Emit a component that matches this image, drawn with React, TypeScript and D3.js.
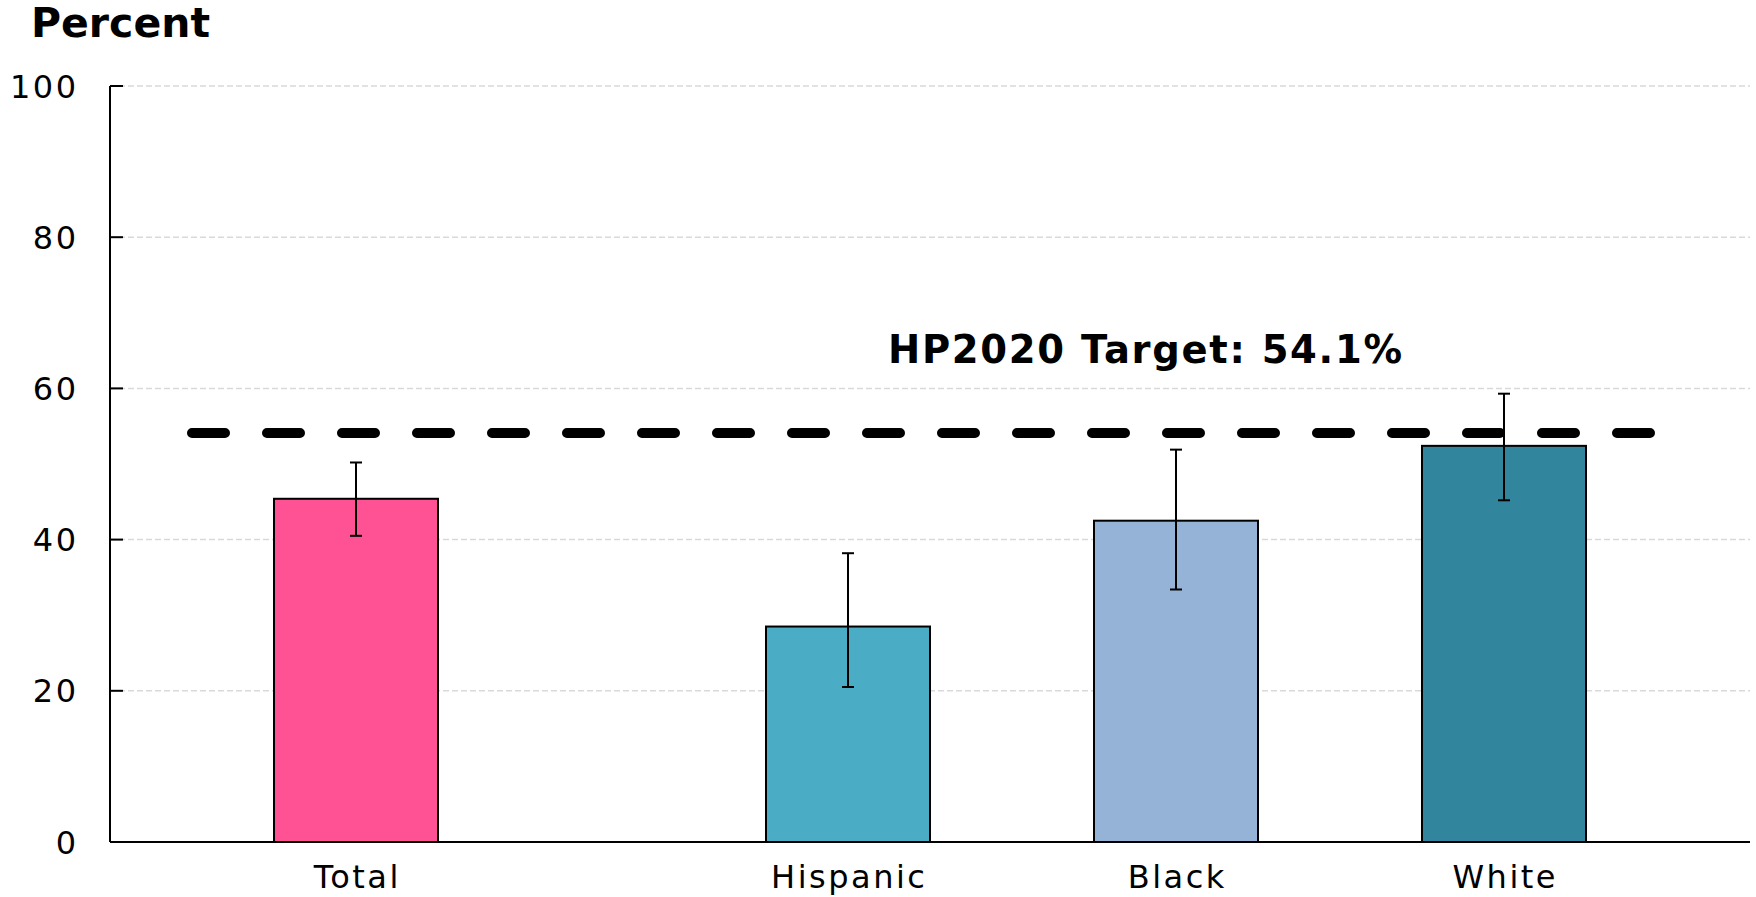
import React from "react";
import * as d3 from "d3";

const categories = ["Total", "Hispanic", "Black", "White"];
const values = [45.4, 28.5, 42.5, 52.4];
const errLow = [40.5, 20.5, 33.4, 45.2];
const errHigh = [50.2, 38.2, 51.9, 59.3];
const colors = ["#FF5294", "#4BACC6", "#95B3D7", "#31859C"];
const yTicks = [0, 20, 40, 60, 80, 100];
const target = 54.1;
const targetLabel = "HP2020 Target: 54.1%";
const yTitle = "Percent";

const W = 1756;
const H = 897;
const left = 110;
const right = 1750;
const top = 86;
const bottom = 842;
const groupGap = 0.5;

export default function App() {
  const slots = categories.map((_, i) => i + (i > 0 ? groupGap : 0));
  const lastSlot = slots[slots.length - 1];
  const x = d3.scaleLinear().domain([-0.75, lastSlot + 0.75]).range([left, right]);
  const y = d3.scaleLinear().domain([0, 100]).range([bottom, top]);
  const unit = x(1) - x(0);
  const barW = unit * 0.5;
  const capW = 6;
  const font = "'DejaVu Sans', Verdana, sans-serif";
  const ls = 2.5;

  return (
    <svg
      width={W}
      height={H}
      style={{ position: "absolute", left: 0, top: 0, display: "block", background: "#fff" }}
      fontFamily={font}
    >
      {/* gridlines */}
      {yTicks.filter((t) => t > 0).map((t) => (
        <line
          key={"g" + t}
          x1={left}
          x2={right}
          y1={y(t)}
          y2={y(t)}
          stroke="#d9d9d9"
          strokeWidth={1.5}
          strokeDasharray="6,3"
        />
      ))}
      {/* y ticks and labels */}
      {yTicks.map((t) => (
        <g key={"t" + t}>
          <line x1={left} x2={left + 13} y1={y(t)} y2={y(t)} stroke="#000" strokeWidth={2} />
          <text
            x={76 + ls}
            y={y(t)}
            dy="0.36em"
            textAnchor="end"
            fontSize={32}
            letterSpacing={ls}
            fill="#000"
          >
            {t}
          </text>
        </g>
      ))}
      {/* bars */}
      {categories.map((c, i) => (
        <rect
          key={"b" + c}
          x={x(slots[i]) - barW / 2}
          y={y(values[i])}
          width={barW}
          height={y(0) - y(values[i])}
          fill={colors[i]}
          stroke="#000"
          strokeWidth={2}
        />
      ))}
      {/* target line */}
      <line
        x1={x(-0.5)}
        x2={x(lastSlot + 0.5)}
        y1={y(target)}
        y2={y(target)}
        stroke="#000"
        strokeWidth={10}
        strokeLinecap="round"
        strokeDasharray="33,42"
      />
      {/* error bars */}
      {categories.map((c, i) => {
        const cx = x(slots[i]);
        return (
          <g key={"e" + c} stroke="#000" strokeWidth={2}>
            <line x1={cx} x2={cx} y1={y(errLow[i])} y2={y(errHigh[i])} />
            <line x1={cx - capW} x2={cx + capW} y1={y(errLow[i])} y2={y(errLow[i])} />
            <line x1={cx - capW} x2={cx + capW} y1={y(errHigh[i])} y2={y(errHigh[i])} />
          </g>
        );
      })}
      {/* axes */}
      <line x1={left} x2={left} y1={top} y2={bottom} stroke="#000" strokeWidth={2} />
      <line x1={left} x2={right} y1={bottom} y2={bottom} stroke="#000" strokeWidth={2} />
      {/* x labels */}
      {categories.map((c, i) => (
        <text
          key={"x" + c}
          x={x(slots[i]) + ls / 2}
          y={888}
          textAnchor="middle"
          fontSize={32}
          letterSpacing={ls}
          fill="#000"
        >
          {c}
        </text>
      ))}
      {/* titles */}
      <text x={31} y={37} fontSize={41} fontWeight="bold" fill="#000">
        {yTitle}
      </text>
      <text x={888} y={363} fontSize={38.5} fontWeight="bold" letterSpacing={1.7} fill="#000">
        {targetLabel}
      </text>
    </svg>
  );
}
